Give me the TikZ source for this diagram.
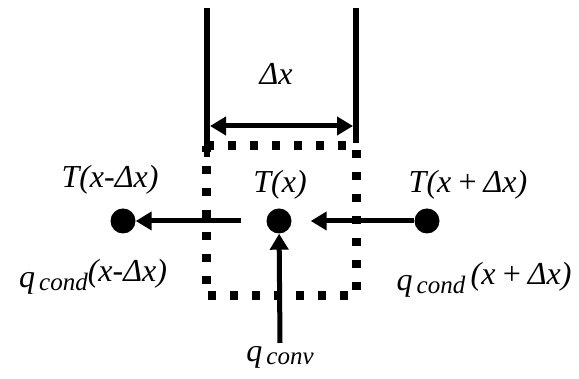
\documentclass[tikz,border=0pt]{standalone}
\usepackage{fontspec}
\setmainfont{Liberation Serif}
\usepackage{tikz}
\usetikzlibrary{arrows.meta}
\newcommand{\lbsub}[1]{\raisebox{-3pt}{\fontsize{25}{25}\selectfont #1}}
\newcommand{\lbq}[1]{\raisebox{-6pt}{q\lbsub{\,#1}}}

\begin{document}
\begin{tikzpicture}[x=1pt,y=1pt,
  rot/.style={font=\itshape\fontsize{32}{32}\selectfont, inner sep=0pt, anchor=base},
  ponto/.style={circle, fill, inner sep=0pt, minimum size=25pt},
  fluxo/.style={line width=5pt, -{Triangle[length=16pt,width=18pt]}},
  parede/.style={line width=6pt}]
\useasboundingbox (0,0) rectangle (579,379);
% paredes
\coordinate (pe1) at (207,371); \coordinate (pe2) at (207,222);
\coordinate (pd1) at (356,371); \coordinate (pd2) at (356,236);
\draw[parede] (pe1) -- (pe2);
\draw[parede] (pd1) -- (pd2);
% largura do elemento
\coordinate (ae) at (210,253); \coordinate (ad) at (353,253);
\draw[line width=5pt, {Triangle[length=16pt,width=18pt]}-{Triangle[length=16pt,width=18pt]}] (ae) -- (ad);
\node[rot] (dx) at (276,294) {Δx};
% volume de controle
\draw[line width=9pt, dash pattern=on 8pt off 14pt] (206,233) -- (356,233) -- (356,83) -- (206,83) -- cycle;
% pontos
\node[ponto] (cen) at (279,158) {};
\node[ponto] (esq) at (123,158) {};
\node[ponto] (dir) at (427,158) {};
\node[rot] (tc) at (280,186) {T(x)};
\node[rot] (te) at (110,191) {T(x-Δx)};
\node[rot] (td) at (468,186) {T(x\,+\,Δx)};
% conducao
\draw[fluxo, shorten <=25pt] (cen) -- (esq);
\draw[fluxo, shorten >=19pt] (dir) -- (cen);
\node[rot] (qe) at (93,97) {\lbq{cond}(x-Δx)};
\node[rot] (qd) at (484,94) {\lbq{cond}\,(x\,+\,Δx)};
% conveccao
\coordinate (cv) at (280,36);
\draw[fluxo] (cv) -- (cen);
\node[rot] (qv) at (280,17) {q\lbsub{\,conv}};
\end{tikzpicture}
\end{document}
